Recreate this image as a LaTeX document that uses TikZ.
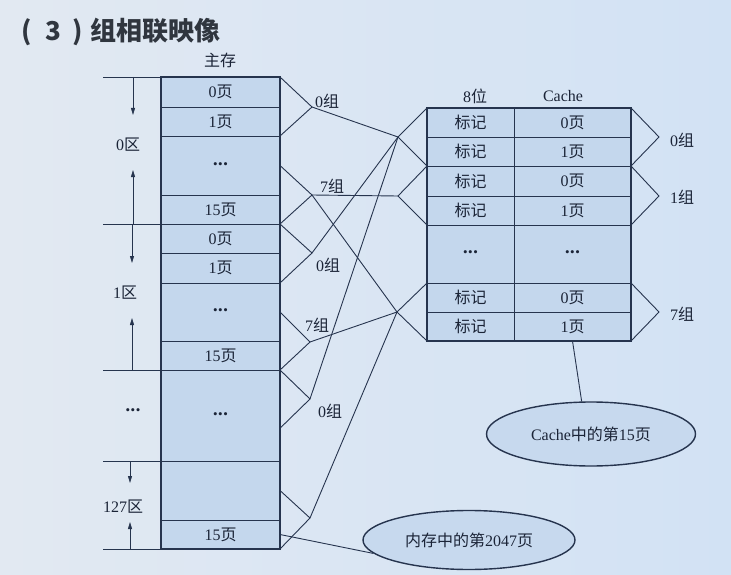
\documentclass[tikz,border=0pt]{standalone}
\usepackage{fontspec}
\setmainfont{Liberation Serif}
\newfontfamily\cjk{Noto Sans CJK SC}
\newcommand{\zh}[1]{{\cjk #1}}
\newcommand{\dotrow}{{\fontsize{13}{13}\selectfont\textbullet\kern0.6pt\textbullet\kern0.6pt\textbullet}}
\usetikzlibrary{shapes.geometric,arrows.meta,calc}
\definecolor{bgleft}{HTML}{E2E9F2}
\definecolor{bgright}{HTML}{D2E2F4}
\definecolor{bgblue}{HTML}{DAE6F4}
\definecolor{cellblue}{HTML}{C4D7ED}
\definecolor{ink}{HTML}{26344E}
\definecolor{titlegray}{HTML}{30363F}

\begin{document}
\begin{tikzpicture}[x=1pt,y=-1pt,
  every node/.style={text=ink!70!black},
  txt/.style={font=\fontsize{16}{16}\selectfont,inner sep=0pt},
  cell/.style={txt,draw=ink,fill=cellblue,line width=0.9pt,inner sep=0pt,outer sep=0pt,minimum width=119pt},
  tag/.style={cell,minimum width=87pt},
  pg/.style={cell,minimum width=117pt},
  oval/.style={txt,ellipse,draw=ink,fill=cellblue!85!bgblue,line width=1.4pt,inner sep=0pt},
  link/.style={draw=ink,line width=0.9pt},
  arr/.style={draw=ink,line width=0.8pt,-{Triangle[length=7pt,width=4pt]}}]

\shade[left color=bgleft,right color=bgright] (0,0) rectangle (731,575);

\node[font=\cjk\bfseries\fontsize{26}{26}\selectfont,anchor=west,text=titlegray,inner sep=0pt] (title) at (21,32) {(\hspace{14pt}3\hspace{11pt})\hspace{8pt}组相联映像};

% main memory
\node[txt] (mlabel) at (220,60) {\zh{主存}};
\node[cell,minimum height=30pt] (m1) at (220.5,92) {0\zh{页}};
\node[cell,minimum height=29pt] (m2) at (220.5,121.5) {1\zh{页}};
\node[cell,minimum height=59pt] (m3) at (220.5,165.5) {\dotrow};
\node[cell,minimum height=29pt] (m4) at (220.5,209.5) {15\zh{页}};
\node[cell,minimum height=29pt] (m5) at (220.5,238.5) {0\zh{页}};
\node[cell,minimum height=30pt] (m6) at (220.5,268) {1\zh{页}};
\node[cell,minimum height=58pt] (m7) at (220.5,312) {\dotrow};
\node[cell,minimum height=29pt] (m8) at (220.5,355.5) {15\zh{页}};
\node[cell,minimum height=91pt] (m9) at (220.5,415.5) {\dotrow};
\node[cell,minimum height=59pt] (m10) at (220.5,490.5) {};
\node[cell,minimum height=29pt] (m11) at (220.5,534.5) {15\zh{页}};
\draw[ink,line width=1.6pt] (m1.north west) rectangle (m11.south east);

% zones
\coordinate (h0) at (103,77);
\coordinate (h1) at (103,224);
\coordinate (h2) at (103,370);
\coordinate (h3) at (103,461);
\coordinate (h4) at (103,549);
\draw[link] (h0) -- (m1.north west);
\draw[link] (h1) -- (m5.north west);
\draw[link] (h2) -- (m9.north west);
\draw[link] (h3) -- (m10.north west);
\draw[link] (h4) -- (m11.south west);

\coordinate (a0s) at (133,77);  \coordinate (a0e) at (133,115);
\coordinate (b0s) at (133,224); \coordinate (b0e) at (133,170);
\coordinate (a1s) at (132,224); \coordinate (a1e) at (132,263);
\coordinate (b1s) at (132,370); \coordinate (b1e) at (132,318);
\coordinate (a2s) at (130,461); \coordinate (a2e) at (130,483);
\coordinate (b2s) at (130,549); \coordinate (b2e) at (130,522);
\draw[arr] (a0s) -- (a0e);
\draw[arr] (b0s) -- (b0e);
\draw[arr] (a1s) -- (a1e);
\draw[arr] (b1s) -- (b1e);
\draw[arr] (a2s) -- (a2e);
\draw[arr] (b2s) -- (b2e);

\node[txt] (z0) at (128,145) {0\zh{区}};
\node[txt] (z1) at (125,293) {1\zh{区}};
\node[txt] (zd) at (133,412) {\dotrow};
\node[txt] (z127) at (123,507) {127\zh{区}};

% cache
\node[txt] (bits) at (475,96) {8\zh{位}};
\node[txt] (clabel) at (563,96) {Cache};
\node[tag,minimum height=29pt] (t1) at (470.5,122.5) {\zh{标记}};
\node[pg,minimum height=29pt] (p1) at (572.5,122.5) {0\zh{页}};
\node[tag,minimum height=29pt] (t2) at (470.5,151.5) {\zh{标记}};
\node[pg,minimum height=29pt] (p2) at (572.5,151.5) {1\zh{页}};
\node[tag,minimum height=30pt] (t3) at (470.5,181) {\zh{标记}};
\node[pg,minimum height=30pt] (p3) at (572.5,181) {0\zh{页}};
\node[tag,minimum height=29pt] (t4) at (470.5,210.5) {\zh{标记}};
\node[pg,minimum height=29pt] (p4) at (572.5,210.5) {1\zh{页}};
\node[tag,minimum height=58pt] (t5) at (470.5,254) {\dotrow};
\node[pg,minimum height=58pt] (p5) at (572.5,254) {\dotrow};
\node[tag,minimum height=29pt] (t6) at (470.5,297.5) {\zh{标记}};
\node[pg,minimum height=29pt] (p6) at (572.5,297.5) {0\zh{页}};
\node[tag,minimum height=29pt] (t7) at (470.5,326.5) {\zh{标记}};
\node[pg,minimum height=29pt] (p7) at (572.5,326.5) {1\zh{页}};
\draw[ink,line width=1.6pt] (t1.north west) rectangle (p7.south east);

% groups in main memory
\coordinate (f0a) at (312,107);
\coordinate (f0b) at (312,195);
\coordinate (f1a) at (312,253);
\coordinate (f1b) at (310,342);
\coordinate (f2a) at (310,399);
\coordinate (f2b) at (310,518);
\coordinate (m9x) at ($(m9.north east)!0.64!(m9.south east)$);
\node[txt] (g0a) at (327,101) {0\zh{组}};
\node[txt] (g0b) at (332,186) {7\zh{组}};
\node[txt] (g1a) at (328,265) {0\zh{组}};
\node[txt] (g1b) at (317,325) {7\zh{组}};
\node[txt] (g2a) at (330,411) {0\zh{组}};

% groups in cache
\coordinate (k0) at (398,137);
\coordinate (k1) at (398,196);
\coordinate (k7) at (397,312);
\coordinate (r0) at (659,137);
\coordinate (r1) at (659,196);
\coordinate (r7) at (659,312);
\node[txt] (q0) at (682,140) {0\zh{组}};
\node[txt] (q1) at (682,197) {1\zh{组}};
\node[txt] (q7) at (682,314) {7\zh{组}};

\draw[link] (m1.north east) -- (f0a) -- (m2.south east);
\draw[link] (m3.east) -- (f0b) -- (m4.south east);
\draw[link] (m4.south east) -- (f1a) -- (m6.south east);
\draw[link] (m7.east) -- (f1b) -- (m8.south east);
\draw[link] (m8.south east) -- (f2a) -- (m9x);
\draw[link] (m10.east) -- (f2b) -- (m11.south east);

\draw[link] (f0a) -- (k0);
\draw[link] (f1a) -- (k0);
\draw[link] (f2a) -- (k0);
\draw[link] (f0b) -- (k1);
\draw[link] (f0b) -- (k7);
\draw[link] (f1b) -- (k7);
\draw[link] (f2b) -- (k7);

\draw[link] (t1.north west) -- (k0) -- (t2.south west);
\draw[link] (t3.north west) -- (k1) -- (t4.south west);
\draw[link] (t6.north west) -- (k7) -- (t7.south west);
\draw[link] (p1.north east) -- (r0) -- (p2.south east);
\draw[link] (p3.north east) -- (r1) -- (p4.south east);
\draw[link] (p6.north east) -- (r7) -- (p7.south east);

% notes
\node[oval,minimum width=209pt,minimum height=64pt] (e2) at (591,434) {Cache\zh{中的第}15\zh{页}};
\node[oval,minimum width=212pt,minimum height=59pt] (e1) at (469,540) {\zh{内存中的第}2047\zh{页}};
\draw[link] (p7.south) -- (e2.106);
\draw[link] (m11.east) -- (e1.188);
\end{tikzpicture}
\end{document}
